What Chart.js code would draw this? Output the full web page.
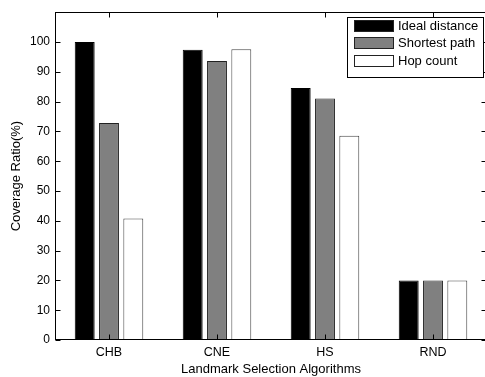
<!DOCTYPE html>
<html>
<head>
<meta charset="utf-8">
<script src="https://cdn.jsdelivr.net/npm/chart.js@4"></script>
<style>
html, body { margin: 0; padding: 0; overflow: hidden; background: #fff; }
#wrap { width: 490px; height: 377px; }
</style>
</head>
<body>
<div id="wrap"><canvas id="c"></canvas></div>
<script>
// data
const categories = ['CHB', 'CNE', 'HS', 'RND'];
const idealDistance = [100, 97.4, 84.6, 20];
const shortestPath = [72.8, 93.6, 81, 20];
const hopCount = [40.8, 97.6, 68.5, 20];
const seriesNames = ['Ideal distance', 'Shortest path', 'Hop count'];
const yTicks = [0, 10, 20, 30, 40, 50, 60, 70, 80, 90, 100];

const FONT = 'Liberation Sans, Arial, Helvetica, sans-serif';

// box round the plot + matlab style inward ticks
const frame = {
  id: 'frame',
  afterDraw(chart) {
    const ctx = chart.ctx, a = chart.chartArea;
    const x = chart.scales.x, y = chart.scales.y;
    ctx.save();
    ctx.strokeStyle = '#000';
    ctx.lineWidth = 1;
    const L = Math.round(a.left) + 0.5, R = Math.round(a.right) - 0.5;
    const T = Math.round(a.top) + 0.5, B = Math.round(a.bottom) - 0.5;
    ctx.strokeRect(L, T, R - L, B - T);
    ctx.beginPath();
    yTicks.forEach(v => {
      const py = Math.round(y.getPixelForValue(v)) + 0.5;
      ctx.moveTo(L, py); ctx.lineTo(L + 5, py);
      ctx.moveTo(R, py); ctx.lineTo(R - 5, py);
    });
    categories.forEach((c, i) => {
      const px = Math.round(x.getPixelForValue(i)) + 0.5;
      ctx.moveTo(px, T); ctx.lineTo(px, T + 5);
      ctx.moveTo(px, B); ctx.lineTo(px, B - 5);
    });
    ctx.stroke();

    // legend box, top right inside the axes
    const lx = 347.5, ly = 17.5, lw = 136, lh = 60;
    ctx.fillStyle = '#fff';
    ctx.fillRect(lx, ly, lw, lh);
    ctx.strokeRect(lx, ly, lw, lh);
    ctx.font = '13px ' + FONT;
    ctx.textBaseline = 'middle';
    chart.data.datasets.forEach((ds, i) => {
      const cy = 25.5 + i * 17.5;
      ctx.fillStyle = ds.backgroundColor;
      ctx.fillRect(354, Math.round(cy - 6), 40, 12);
      ctx.strokeStyle = '#222';
      ctx.strokeRect(354.5, Math.round(cy - 6) + 0.5, 39, 11);
      ctx.fillStyle = '#000';
      ctx.fillText(ds.label, 398, cy + 0.5);
    });
    ctx.restore();
  }
};

new Chart(document.getElementById('c'), {
  type: 'bar',
  data: {
    labels: categories,
    datasets: [
      { label: seriesNames[0], data: idealDistance, backgroundColor: '#000000', borderColor: '#000', borderWidth: 1 },
      { label: seriesNames[1], data: shortestPath, backgroundColor: '#808080', borderColor: '#222', borderWidth: 1 },
      { label: seriesNames[2], data: hopCount, backgroundColor: '#ffffff', borderColor: '#444', borderWidth: 1 }
    ]
  },
  options: {
    responsive: true,
    maintainAspectRatio: false,
    animation: false,
    devicePixelRatio: 1,
    categoryPercentage: 0.675,
    barPercentage: 0.82,
    layout: { padding: { top: 9, right: 3, left: 0, bottom: 0 } },
    plugins: { legend: { display: false }, tooltip: { enabled: false } },
    scales: {
      x: {
        grid: { display: false, drawTicks: false },
        border: { display: false },
        ticks: { color: '#000', font: { family: FONT, size: 12.5 }, padding: 5 },
        title: { display: true, text: 'Landmark Selection Algorithms', color: '#000', font: { family: FONT, size: 13 }, padding: { top: 1, bottom: 0 } },
        afterFit(s) { s.height = 37; }
      },
      y: {
        min: 0, max: 110,
        grid: { display: false, drawTicks: false },
        border: { display: false },
        ticks: {
          stepSize: 10, color: '#000', font: { family: FONT, size: 12 }, padding: 5,
          callback: v => (yTicks.includes(v) ? v : '')
        },
        title: { display: true, text: 'Coverage Ratio(%)', color: '#000', font: { family: FONT, size: 13 }, padding: { top: 9, bottom: 0 } },
        afterFit(s) { s.width = 55; }
      }
    }
  },
  plugins: [frame]
});
</script>
</body>
</html>
